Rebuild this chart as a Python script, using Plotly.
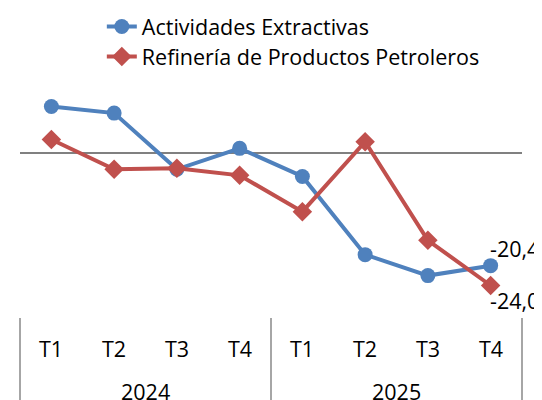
import plotly.graph_objects as go

years = ["2024"] * 4 + ["2025"] * 4
quarters = ["T1", "T2", "T3", "T4", "T1", "T2", "T3", "T4"]
extractivas = [8.5, 7.3, -2.9, 0.9, -4.2, -18.4, -22.2, -20.4]
refineria = [2.5, -2.9, -2.7, -4.0, -10.6, 2.1, -15.8, -24.0]
name_ext = "Actividades Extractivas"
name_ref = "Refinería de Productos Petroleros"

FONT = "Open Sans"
FS = 21.5
idx = list(range(len(quarters)))
x_min, x_max = -0.5, len(idx) - 0.5

def fmt(v):
    return f"{v:.1f}".replace(".", ",")

fig = go.Figure()
fig.add_trace(go.Scatter(
    x=idx, y=extractivas, name=name_ext, mode="lines+markers",
    line=dict(color="#4F81BD", width=4),
    marker=dict(symbol="circle", size=15, color="#4F81BD"),
    cliponaxis=False, legend="legend",
))
fig.add_trace(go.Scatter(
    x=idx, y=refineria, name=name_ref, mode="lines+markers",
    line=dict(color="#C0504D", width=4),
    marker=dict(symbol="diamond", size=15, color="#C0504D"),
    cliponaxis=False, legend="legend2",
))

ann = []
ann.append(dict(x=idx[-1], y=extractivas[-1], xref="x", yref="y", text=fmt(extractivas[-1]),
                showarrow=False, xanchor="left", yanchor="middle", xshift=-3, yshift=17,
                font=dict(family=FONT, size=FS, color="#000000")))
ann.append(dict(x=idx[-1], y=refineria[-1], xref="x", yref="y", text=fmt(refineria[-1]),
                showarrow=False, xanchor="left", yanchor="middle", xshift=-3, yshift=-15,
                font=dict(family=FONT, size=FS, color="#000000")))
for i, q in zip(idx, quarters):
    ann.append(dict(x=i, y=0, xref="x", yref="paper", text=q, showarrow=False,
                    xanchor="center", yanchor="middle", yshift=-30,
                    font=dict(family=FONT, size=FS, color="#000000")))
groups = []
for i, yv in zip(idx, years):
    if not groups or groups[-1][0] != yv:
        groups.append([yv, i, i])
    else:
        groups[-1][2] = i
shapes = []
for yv, a, b in groups:
    ann.append(dict(x=(a + b) / 2, y=0, xref="x", yref="paper", text=yv, showarrow=False,
                    xanchor="center", yanchor="middle", yshift=-73,
                    font=dict(family=FONT, size=FS, color="#000000")))
bounds = [groups[0][1] - 0.5] + [g[2] + 0.5 for g in groups]
for bx in bounds:
    px = (bx - x_min) / (x_max - x_min)
    shapes.append(dict(type="line", xref="paper", yref="paper", x0=px, x1=px, y0=0, y1=-0.4,
                       line=dict(color="#A6A6A6", width=2)))

legend_style = dict(xanchor="left", yanchor="top", font=dict(family=FONT, size=FS),
                    bgcolor="rgba(0,0,0,0)", itemwidth=30)
fig.update_layout(
    width=534, height=392,
    margin=dict(l=12, r=20, t=77, b=82, autoexpand=False),
    paper_bgcolor="white", plot_bgcolor="white",
    font=dict(family=FONT, size=FS, color="#000000"),
    showlegend=True,
    legend=dict(x=0.163, y=1.339, **legend_style),
    legend2=dict(x=0.163, y=1.210, **legend_style),
    annotations=ann, shapes=shapes,
)
fig.update_xaxes(
    range=[x_min, x_max], showgrid=False, showline=False, ticks="",
    showticklabels=False, zeroline=False, automargin=False,
)
fig.update_yaxes(
    range=[-29.9, 12.4], showgrid=False, showticklabels=False,
    zeroline=True, zerolinecolor="#808080", zerolinewidth=2,
    showline=False, ticks="", automargin=False,
)

fig.write_html("out.html")
